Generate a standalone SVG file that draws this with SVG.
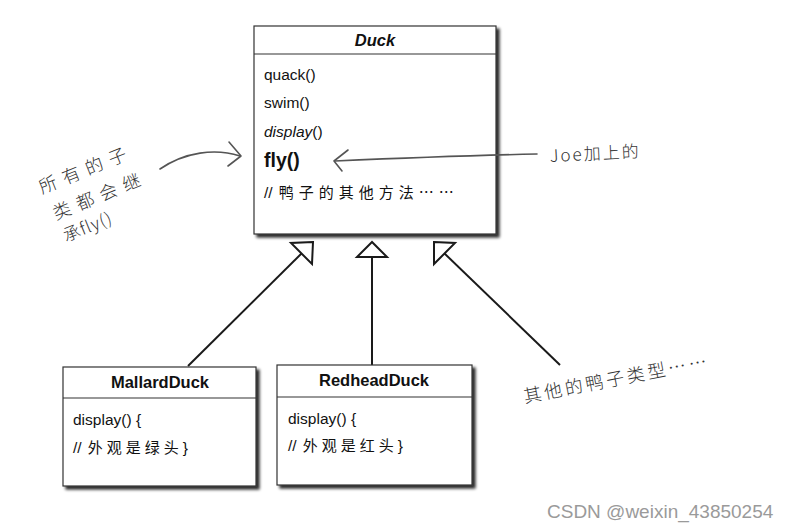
<svg xmlns="http://www.w3.org/2000/svg" width="793" height="531" viewBox="0 0 793 531">
  <defs>
    <filter id="shadow" x="-10%" y="-10%" width="130%" height="130%">
      <feGaussianBlur in="SourceAlpha" stdDeviation="1.8"/>
      <feOffset dx="3" dy="3" result="b"/>
      <feComponentTransfer><feFuncA type="linear" slope="0.85"/></feComponentTransfer>
      <feMerge><feMergeNode/><feMergeNode in="SourceGraphic"/></feMerge>
    </filter>
  </defs>
  <style>
    .box { fill: #fff; stroke: #333; stroke-width: 1.2; }
    .div { stroke: #333; stroke-width: 1.2; }
    .t { font-family: "Liberation Sans", Arial, sans-serif; fill: #111; font-size: 15.5px; }
    .title { font-family: "Liberation Sans", Arial, sans-serif; fill: #111; font-size: 16.5px; font-weight: bold; text-anchor: middle; }
    .cjk { font-family: "Noto Sans CJK SC", sans-serif; letter-spacing: 4px; font-size: 15px; }
    .hand { font-family: "Noto Sans CJK SC", sans-serif; fill: #333; font-weight: 300; }
    .gen { stroke: #1a1a1a; stroke-width: 2; fill: none; }
    .tri { stroke: #1a1a1a; stroke-width: 2; fill: #fff; stroke-linejoin: miter; }
    .note { stroke: #555; stroke-width: 1.6; fill: none; stroke-linecap: round; stroke-linejoin: round; }
  </style>
  <rect width="793" height="531" fill="#fff"/>

  <g id="connectors">
    <line class="gen" x1="188" y1="366" x2="302" y2="253"/>
    <polygon class="tri" points="313,242 291,243 312,264"/>
    <line class="gen" x1="372" y1="365" x2="372" y2="257"/>
    <polygon class="tri" points="372,242 357,257 387,257"/>
    <line class="gen" x1="560" y1="365" x2="444" y2="253"/>
    <polygon class="tri" points="434,242 455,243 434,264"/>
  </g>

  <g id="Duck">
    <rect class="box" x="254" y="26" width="242" height="208" filter="url(#shadow)"/>
    <line class="div" x1="254" y1="54" x2="496" y2="54"/>
    <text class="t" x="375" y="46" text-anchor="middle" style="font-weight:bold;font-style:italic;font-size:16.5px">Duck</text>
    <text class="t" x="264" y="80">quack()</text>
    <text class="t" x="264" y="108">swim()</text>
    <text class="t" x="264" y="137"><tspan style="font-style:italic">display</tspan>()</text>
    <text class="t" x="264" y="167" style="font-weight:bold;font-size:19.5px">fly()</text>
    <text class="t" x="264" y="198">//<tspan class="cjk" dx="6" style="letter-spacing:5px">鸭子的其他方法……</tspan></text>
  </g>

  <g id="MallardDuck">
    <rect class="box" x="63" y="367" width="193" height="119" filter="url(#shadow)"/>
    <line class="div" x1="63" y1="398" x2="256" y2="398"/>
    <text class="title" x="160" y="388">MallardDuck</text>
    <text class="t" x="73" y="425">display() {</text>
    <text class="t" x="73" y="453">//<tspan class="cjk" dx="6">外观是绿头</tspan>}</text>
  </g>

  <g id="RedheadDuck">
    <rect class="box" x="277" y="365" width="195" height="120" filter="url(#shadow)"/>
    <line class="div" x1="277" y1="397" x2="472" y2="397"/>
    <text class="title" x="374" y="386">RedheadDuck</text>
    <text class="t" x="288" y="424">display() {</text>
    <text class="t" x="288" y="451">//<tspan class="cjk" dx="6">外观是红头</tspan>}</text>
  </g>

  <g id="annotations">
    <path class="note" d="M537,154 Q450,156 335,161"/>
    <polyline class="note" points="348,150 334,161 342,171"/>
    <text class="hand" x="550" y="162" style="font-size:17px;letter-spacing:2px" transform="rotate(-3 550 162)">Joe加上的</text>

    <path class="note" d="M160,169 C185,152 215,148 240,156"/>
    <polyline class="note" points="229,142 241,156 228,166"/>
    <text class="hand" x="42" y="194" style="font-size:18px;letter-spacing:7px" transform="rotate(-22 42 194)">所有的子</text>
    <text class="hand" x="56" y="220" style="font-size:18px;letter-spacing:7px" transform="rotate(-22 56 220)">类都会继</text>
    <text class="hand" x="66" y="242" style="font-size:17px;letter-spacing:1px" transform="rotate(-22 66 242)">承fly()</text>

    <text class="hand" x="525" y="403" style="font-size:18px;letter-spacing:3px" transform="rotate(-11 525 403)">其他的鸭子类型……</text>
  </g>

  <text x="547" y="518" font-family="Liberation Sans, Arial, sans-serif" font-size="19" fill="#9a9a9a">CSDN @weixin_43850254</text>
</svg>
